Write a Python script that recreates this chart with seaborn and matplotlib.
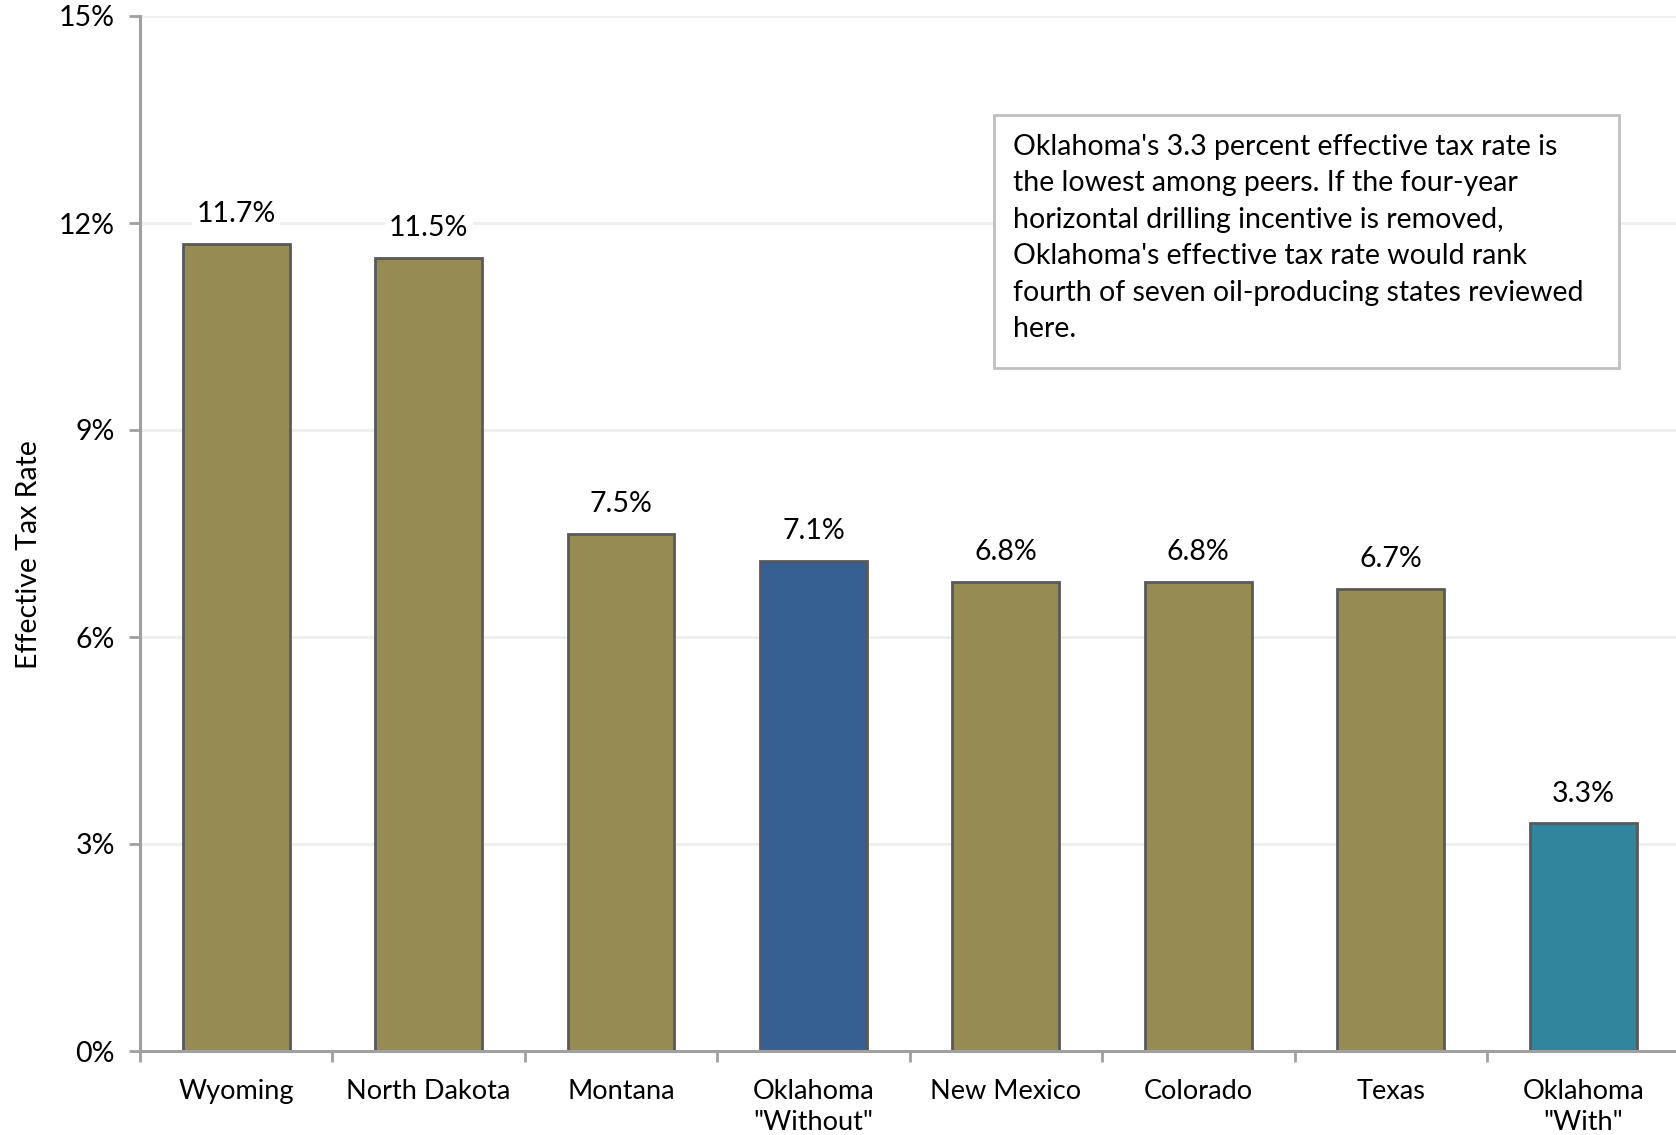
import matplotlib
matplotlib.use("Agg")
import matplotlib.pyplot as plt
import matplotlib.patches as mpatches
from matplotlib.ticker import FixedLocator, FuncFormatter
import seaborn as sns
import pandas as pd

categories = ["Wyoming", "North Dakota", "Montana", "Oklahoma\n\"Without\"",
              "New Mexico", "Colorado", "Texas", "Oklahoma\n\"With\""]
rates = [11.7, 11.5, 7.5, 7.1, 6.8, 6.8, 6.7, 3.3]
value_labels = ["11.7%", "11.5%", "7.5%", "7.1%", "6.8%", "6.8%", "6.7%", "3.3%"]
y_ticks = [0, 3, 6, 9, 12, 15]
note = ("Oklahoma's 3.3 percent effective tax rate is\n"
        "the lowest among peers. If the four-year\n"
        "horizontal drilling incentive is removed,\n"
        "Oklahoma's effective tax rate would rank\n"
        "fourth of seven oil-producing states reviewed\n"
        "here.")

olive = "#958B53"
colors = {c: olive for c in categories}
colors[categories[3]] = "#376092"
colors[categories[7]] = "#31859C"

sns.set_theme(style="white")
plt.rcParams["font.family"] = ["Lato", "DejaVu Sans"]
FS = 20.5

df = pd.DataFrame({"cat": categories, "rate": rates})

fig = plt.figure(figsize=(16.76, 11.35), dpi=100)
ax_w = 1 - 140 / 1676 + 0.002
ax = fig.add_axes([140 / 1676, 1 - 1051 / 1135, ax_w, (1051 - 16) / 1135])

sns.barplot(data=df, x="cat", y="rate", hue="cat", palette=colors, legend=False,
            saturation=1, width=0.555, edgecolor="#595959", linewidth=2, ax=ax, zorder=3)

ax.set_xlim(-0.5, 7.5)
ax.set_ylim(0, 15)
ax.yaxis.set_major_locator(FixedLocator(y_ticks))
ax.yaxis.set_major_formatter(FuncFormatter(lambda v, p: f"{v:.0f}%"))
for t in y_ticks[1:]:
    ax.axhline(t, color="#EEEEEE", lw=2, zorder=1)

for s in ["top", "right"]:
    ax.spines[s].set_visible(False)
for s in ["left", "bottom"]:
    ax.spines[s].set_color("#A0A0A0")
    ax.spines[s].set_linewidth(2.2)
    ax.spines[s].set_zorder(4)

ax.tick_params(axis="y", which="major", left=True, length=8, width=2, color="#A0A0A0",
               labelsize=FS, pad=10, labelcolor="black")
ax.set_xticks(range(len(categories)))
ax.set_xticklabels(categories, fontsize=19.5, linespacing=1.3)
ax.tick_params(axis="x", which="major", length=0, pad=20, labelcolor="black")
ax.set_xticks([i - 0.5 for i in range(len(categories) + 1)], minor=True)
ax.tick_params(axis="x", which="minor", bottom=True, length=8, width=2, color="#A0A0A0")

ax.set_xlabel("")
ax.set_ylabel("Effective Tax Rate", fontsize=FS, color="black")
ax.yaxis.label.set_va("center")
ax.yaxis.set_label_coords(-(140 - 29) / 1676 / ax_w, 0.48)

for i, (v, lab) in enumerate(zip(rates, value_labels)):
    ax.text(i, v + 0.43, lab, ha="center", va="center", fontsize=FS, color="black",
            zorder=5, bbox=dict(facecolor="white", edgecolor="none", pad=3))

box = mpatches.Rectangle((994 / 1676, 1 - 368 / 1135), (1619 - 994) / 1676, (368 - 115) / 1135,
                         transform=fig.transFigure, facecolor="white", edgecolor="#BFBFBF",
                         linewidth=2, zorder=6)
fig.patches.append(box)
fig.text(1013 / 1676, 1 - 134 / 1135, note, ha="left", va="top", fontsize=FS,
         linespacing=1.5, color="black", zorder=7)

fig.savefig("out.png", dpi=100)
